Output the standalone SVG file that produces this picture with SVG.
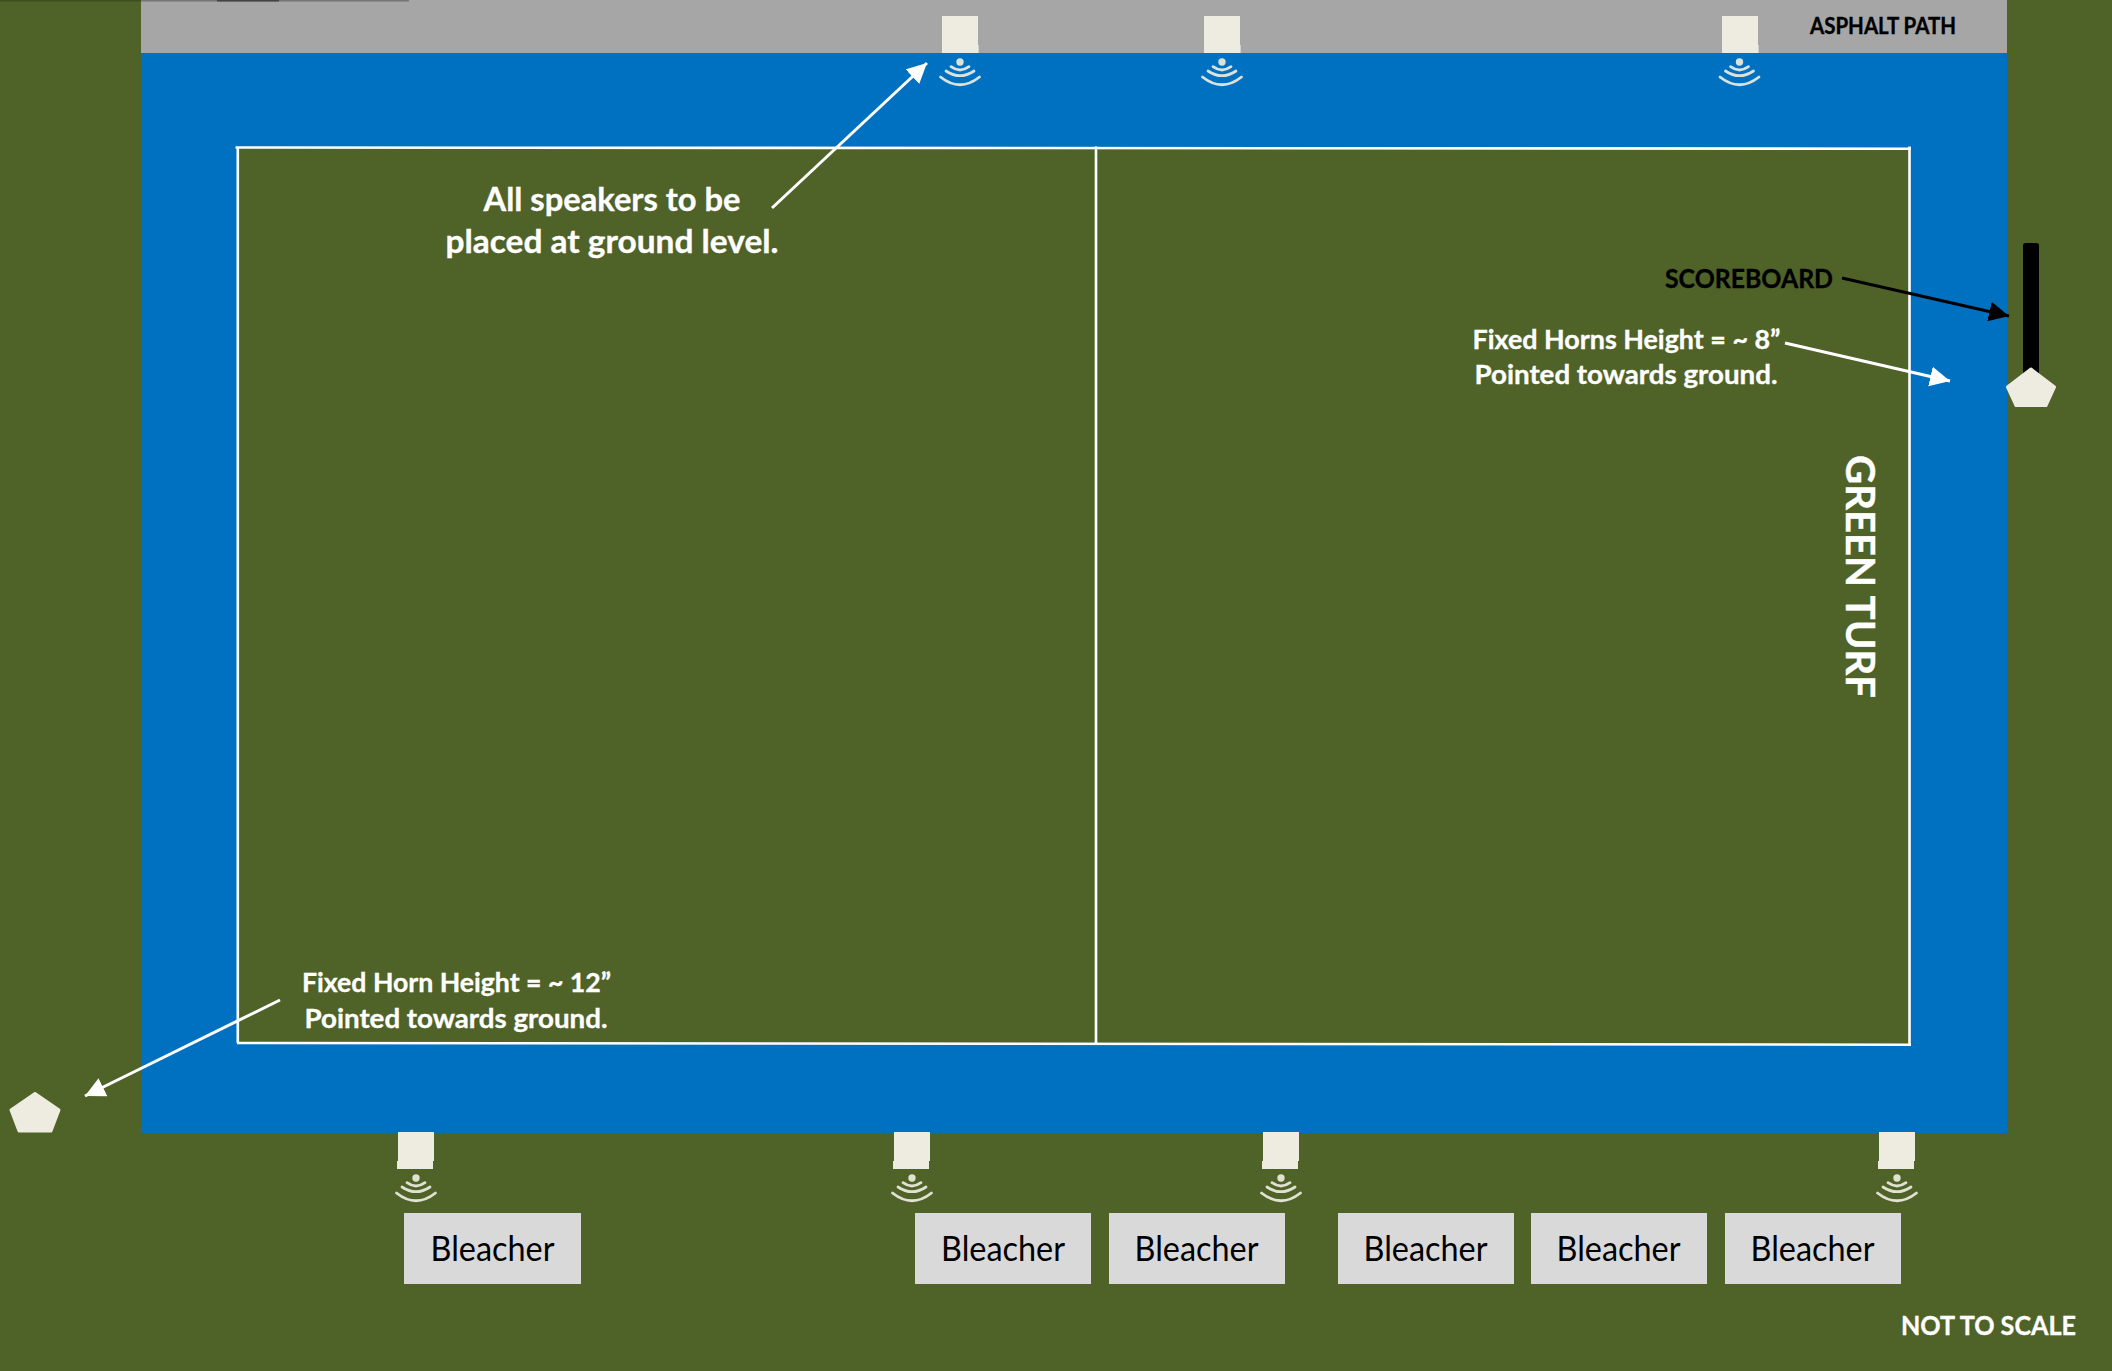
<svg xmlns="http://www.w3.org/2000/svg" xmlns:xlink="http://www.w3.org/1999/xlink" width="2112" height="1371" viewBox="0 0 2112 1371">
<style>
text{font-family:"Lato","Carlito","Liberation Sans",sans-serif}
.w{fill:#fff;font-weight:700;stroke:#fff;stroke-width:.35}
.k{fill:#000;font-weight:700;stroke:#000;stroke-width:.35}
.b{fill:#000;font-size:35px;text-anchor:middle}
.spk{fill:#eeece1}
.wave{fill:none;stroke:#eeece1;stroke-width:2.8;stroke-linecap:round;opacity:.92}
.bl{fill:#d9d9d9}
.fl{stroke:#fff;stroke-width:2.6;fill:none}
.horn{fill:#eeece1;stroke:#eeece1;stroke-width:3;stroke-linejoin:round}
</style>
<defs>
<marker id="aw" markerUnits="userSpaceOnUse" markerWidth="24" markerHeight="24" refX="20" refY="10" orient="auto"><path d="M0 0L20 10L0 20Z" fill="#fff"/></marker>
<marker id="ak" markerUnits="userSpaceOnUse" markerWidth="24" markerHeight="24" refX="20" refY="10" orient="auto"><path d="M0 0L20 10L0 20Z" fill="#000"/></marker>
<g id="wv"><circle cx="0" cy="0" r="3.700" fill="#eeece1" opacity=".92"/><path class="wave" d="M-9 4.700Q0 11.300 9 4.700M-14 9Q0 18.400 14 9M-19.500 15Q0 30.400 19.500 15"/></g>
</defs>
<rect width="2112" height="1371" fill="#4f6228"/>
<g id="surfaces">
<rect id="track" x="141" y="53" width="1866" height="1080" fill="#0070c0"/>
<rect id="asphalt" x="141" y="0" width="1866" height="53" fill="#a6a6a6"/>
<rect x="0" y="0" width="141" height="1.500" fill="#3f4e20"/>
<rect x="141" y="0" width="268" height="1.500" fill="#757575"/>
<rect x="217" y="0" width="62" height="1.500" fill="#444"/>
</g>
<g id="field">
<path d="M238 147.500L1909 148.700L1910 1044.500L238 1043Z" fill="#4f6228"/>
<path class="fl" d="M235.500 147.500L1911 148.700M237.800 146.500V1043M237 1043L1911 1044.700M1909.500 146.500V1045M1096 146.500V1044"/>
</g>
<g id="speaker-top-1"><rect class="spk" x="942" y="16" width="36" height="37"/><rect class="spk" x="943" y="45" width="36" height="8" opacity=".6"/><use xlink:href="#wv" href="#wv" x="960" y="62"/></g>
<g id="speaker-top-2"><rect class="spk" x="1204" y="16" width="36" height="37"/><rect class="spk" x="1205" y="45" width="36" height="8" opacity=".6"/><use xlink:href="#wv" href="#wv" x="1222" y="62"/></g>
<g id="speaker-top-3"><rect class="spk" x="1722" y="16" width="36" height="37"/><rect class="spk" x="1723" y="45" width="36" height="8" opacity=".6"/><use xlink:href="#wv" href="#wv" x="1739.500" y="62"/></g>
<g id="speaker-bottom-1"><rect class="spk" x="398" y="1132" width="36" height="29"/><rect class="spk" x="397" y="1161" width="36" height="8"/><use xlink:href="#wv" href="#wv" x="416" y="1178"/></g>
<g id="speaker-bottom-2"><rect class="spk" x="894" y="1132" width="36" height="29"/><rect class="spk" x="893" y="1161" width="36" height="8"/><use xlink:href="#wv" href="#wv" x="912" y="1178"/></g>
<g id="speaker-bottom-3"><rect class="spk" x="1263" y="1132" width="36" height="29"/><rect class="spk" x="1262" y="1161" width="36" height="8"/><use xlink:href="#wv" href="#wv" x="1281" y="1178"/></g>
<g id="speaker-bottom-4"><rect class="spk" x="1879" y="1132" width="36" height="29"/><rect class="spk" x="1878" y="1161" width="36" height="8"/><use xlink:href="#wv" href="#wv" x="1897" y="1178"/></g>
<g id="scoreboard"><rect x="2023" y="243" width="16" height="135" rx="2.500" fill="#000"/></g>
<g id="horn-right"><path class="horn" d="M2031 369L2054.500 387L2046 405.500H2016L2007.500 387Z"/></g>
<g id="horn-left"><path class="horn" d="M35 1093.500L59 1110L51 1131H19L11 1110Z"/></g>
<g id="bleacher-1"><rect class="bl" x="404" y="1213" width="177" height="71"/><text class="b" x="492.500" y="1261" textLength="124" lengthAdjust="spacingAndGlyphs">Bleacher</text></g>
<g id="bleacher-2"><rect class="bl" x="915" y="1213" width="176" height="71"/><text class="b" x="1003" y="1261" textLength="124" lengthAdjust="spacingAndGlyphs">Bleacher</text></g>
<g id="bleacher-3"><rect class="bl" x="1109" y="1213" width="176" height="71"/><text class="b" x="1196.500" y="1261" textLength="124" lengthAdjust="spacingAndGlyphs">Bleacher</text></g>
<g id="bleacher-4"><rect class="bl" x="1338" y="1213" width="176" height="71"/><text class="b" x="1425.500" y="1261" textLength="124" lengthAdjust="spacingAndGlyphs">Bleacher</text></g>
<g id="bleacher-5"><rect class="bl" x="1531" y="1213" width="176" height="71"/><text class="b" x="1618.500" y="1261" textLength="124" lengthAdjust="spacingAndGlyphs">Bleacher</text></g>
<g id="bleacher-6"><rect class="bl" x="1725" y="1213" width="176" height="71"/><text class="b" x="1812.500" y="1261" textLength="124" lengthAdjust="spacingAndGlyphs">Bleacher</text></g>
<g id="connectors" fill="none" stroke-width="3">
<path d="M772 208L927 63" stroke="#fff" marker-end="url(#aw)"/>
<path d="M1842 278L2009 316" stroke="#000" marker-end="url(#ak)"/>
<path d="M1785 343L1950 381" stroke="#fff" marker-end="url(#aw)"/>
<path d="M280 1000L85 1096" stroke="#fff" marker-end="url(#aw)"/>
</g>
<g id="labels">
<text class="w" x="483.500" y="211" font-size="33" textLength="257" lengthAdjust="spacingAndGlyphs">All speakers to be</text>
<text class="w" x="445.500" y="253" font-size="33" textLength="333" lengthAdjust="spacingAndGlyphs">placed at ground level.</text>
<text class="w" x="302" y="992" font-size="27" textLength="309" lengthAdjust="spacingAndGlyphs">Fixed Horn Height = ~ 12”</text>
<text class="w" x="304.500" y="1028" font-size="27" textLength="303" lengthAdjust="spacingAndGlyphs">Pointed towards ground.</text>
<text class="w" x="1472.500" y="349" font-size="27" textLength="308" lengthAdjust="spacingAndGlyphs">Fixed Horns Height = ~ 8”</text>
<text class="w" x="1474.500" y="384" font-size="27" textLength="303" lengthAdjust="spacingAndGlyphs">Pointed towards ground.</text>
<text class="k" x="1665" y="288" font-size="27" textLength="168" lengthAdjust="spacingAndGlyphs">SCOREBOARD</text>
<text class="k" x="1810" y="34" font-size="22" textLength="146" lengthAdjust="spacingAndGlyphs">ASPHALT PATH</text>
<text class="w" x="1901" y="1335" font-size="27" textLength="175" lengthAdjust="spacingAndGlyphs">NOT TO SCALE</text>
<text class="w" transform="translate(1846 455) rotate(90)" font-size="41" textLength="243" lengthAdjust="spacingAndGlyphs">GREEN TURF</text>
</g>
</svg>
